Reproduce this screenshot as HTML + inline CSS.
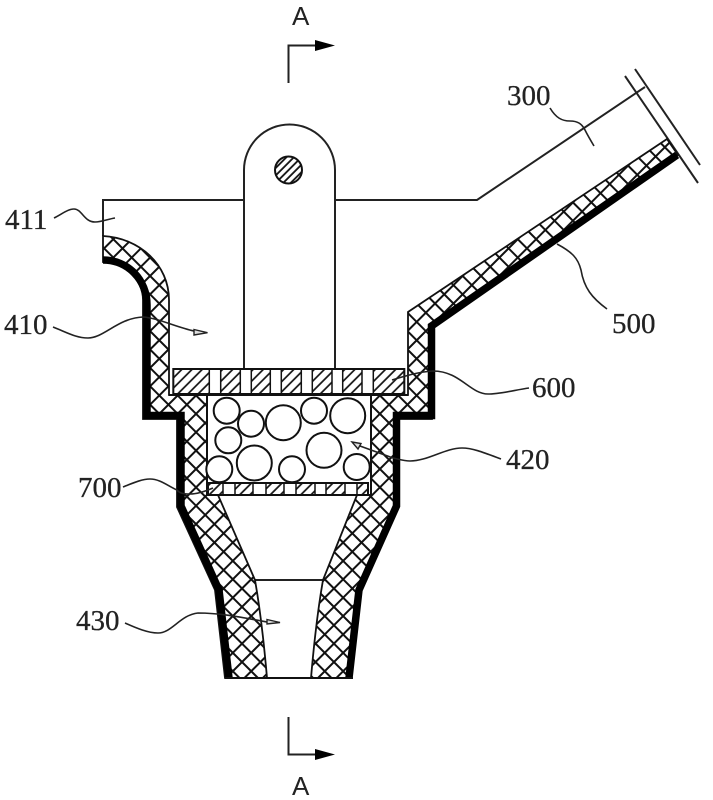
<!DOCTYPE html>
<html>
<head>
<meta charset="utf-8">
<style>
html,body{margin:0;padding:0;background:#fff;width:713px;height:800px;overflow:hidden}
svg{display:block}
text{font-family:"Liberation Serif",serif;font-size:29px;fill:#222;stroke:#222;stroke-width:.3px}
text.a{font-family:"Liberation Sans",sans-serif;font-size:26px;stroke-width:0}
</style>
</head>
<body>
<svg width="713" height="800" viewBox="0 0 713 800" xmlns="http://www.w3.org/2000/svg">
<defs>
<pattern id="x" width="13" height="13" patternUnits="userSpaceOnUse" patternTransform="rotate(45 3 3)">
<path d="M1 0V13M0 1H13" stroke="#111" stroke-width="2" fill="none"/>
</pattern>
<pattern id="h" width="7.200" height="7.200" patternUnits="userSpaceOnUse" patternTransform="rotate(45)">
<path d="M1 0V7.200" stroke="#111" stroke-width="1.700" fill="none"/>
</pattern>
<pattern id="c" width="5.300" height="5.300" patternUnits="userSpaceOnUse" patternTransform="rotate(45)">
<path d="M1 0V5.300" stroke="#111" stroke-width="1.800" fill="none"/>
</pattern>
</defs>

<!-- housing outline -->
<g fill="none" stroke="#222" stroke-width="2">
<path d="M103 236V200H244"/>
<path d="M335 200H477L645 87"/>
<path d="M244 369V170A45.500 45.500 0 0 1 335 170V369"/>
<path d="M625 76L698 183"/>
<path d="M635 69L700 165"/>
<path d="M255 580H323"/>
</g>
<circle cx="288.500" cy="170" r="13.500" fill="url(#c)" stroke="#111" stroke-width="2"/>

<!-- left wall -->
<path d="M103 236C140 238 169 265 169 300V395H207V495H218L255 580Q262 620 267 678H225L215 590L177 507V419H143V300C143 280 125 262 103 262Z" fill="url(#x)" stroke="#111" stroke-width="1.800"/>
<!-- right wall -->
<path d="M311 678Q316 620 323 580L357 495H371V395H408V312L667 139L678 155L432 326V419H396V506L359 590L349 678Z" fill="url(#x)" stroke="#111" stroke-width="1.800"/>

<!-- black outer lining -->
<g fill="none" stroke="#000" stroke-width="7.500" stroke-linejoin="miter">
<path d="M103 260C128 260 147 280 147 305V415.500H181V506L219 590L229 678"/>
<path d="M349 678L359 590L396.500 506V415.500H431.500V326L677 155"/>
</g>
<path d="M225 678H353" stroke="#111" stroke-width="2"/>

<!-- top filter plate -->
<rect x="173.300" y="369" width="231" height="25" fill="#fff" stroke="#111" stroke-width="2"/>
<g fill="url(#h)" stroke="#111" stroke-width="1.500">
<rect x="173.300" y="369" width="36" height="25"/>
<rect x="220.700" y="369" width="19.600" height="25"/>
<rect x="251.300" y="369" width="19" height="25"/>
<rect x="281.300" y="369" width="20" height="25"/>
<rect x="312.300" y="369" width="19.700" height="25"/>
<rect x="342.700" y="369" width="19.300" height="25"/>
<rect x="373.300" y="369" width="31" height="25"/>
</g>
<path d="M169 395H408" stroke="#111" stroke-width="2"/>

<!-- chamber -->
<rect x="207" y="395" width="164" height="100" fill="#fff" stroke="#111" stroke-width="2"/>
<g fill="#fff" stroke="#111" stroke-width="2">
<circle cx="226.700" cy="410.700" r="13"/>
<circle cx="251" cy="423.700" r="13"/>
<circle cx="283.300" cy="422.700" r="17.500"/>
<circle cx="314" cy="410.700" r="13"/>
<circle cx="347.700" cy="415.700" r="17.500"/>
<circle cx="228.300" cy="440.300" r="13"/>
<circle cx="324" cy="450.300" r="17.500"/>
<circle cx="219.300" cy="469.300" r="13"/>
<circle cx="254.300" cy="463" r="17.500"/>
<circle cx="292" cy="469.300" r="13"/>
<circle cx="356.700" cy="467" r="13"/>
</g>

<!-- bottom filter plate -->
<rect x="208" y="483" width="160" height="12" fill="#fff" stroke="#111" stroke-width="2"/>
<g fill="url(#h)" stroke="#111" stroke-width="1.500">
<rect x="208" y="483" width="15" height="12"/>
<rect x="235" y="483" width="18" height="12"/>
<rect x="266" y="483" width="18" height="12"/>
<rect x="296" y="483" width="19" height="12"/>
<rect x="326" y="483" width="19" height="12"/>
<rect x="357" y="483" width="11" height="12"/>
</g>

<!-- leaders -->
<g fill="none" stroke="#222" stroke-width="1.600">
<path d="M550 108C556 118 562 121 570 121C578 121 582 124 585 130C588 136 591 141 594 146"/>
<path d="M557 244C572 252 578 258 581 270C584 288 592 298 607 309"/>
<path d="M54 218C62 214 68 209 74 209C82 209 84 222 95 222C102 222 108 219 115 218"/>
<path d="M53 327C66 332 76 338 88 338C104 338 118 318 143 317C158 318 176 327 194 331"/>
<path d="M529 388C515 390 500 394 488 394C470 394 460 371 433 371C418 372 405 376 392 380"/>
<path d="M501 459C485 453 473 448 462 448C445 448 428 461 410 461C404 461 398 459 393 458L360 446"/>
<path d="M123 487C133 483 142 479 150 479C160 479 168 486 177 490C180 494 186 494 190 494C198 494 206 491 213 488"/>
<path d="M125 623C136 628 148 633 158 633C172 633 180 615 198 613C222 613 245 618 267 622"/>
</g>
<g fill="#ddd" stroke="#222" stroke-width="1.400">
<path d="M194 329.500L207.500 332.700L194 335Z"/>
<path d="M352 442L361 443.500L358 449Z"/>
<path d="M267 619.500L280 622.500L267 624Z"/>
</g>

<!-- section marks -->
<g fill="none" stroke="#222" stroke-width="2">
<path d="M288.500 83V45.500H316"/>
<path d="M288.500 717V754.500H316"/>
</g>
<path d="M315 40L335 45.500L315 51Z" fill="#000"/>
<path d="M315 749L335 754.500L315 760Z" fill="#000"/>

<!-- labels -->
<text x="507" y="105">300</text>
<text x="612" y="333">500</text>
<text x="5" y="229">411</text>
<text x="4" y="334">410</text>
<text x="532" y="397">600</text>
<text x="506" y="469">420</text>
<text x="78" y="497">700</text>
<text x="76" y="630">430</text>
<text class="a" x="292" y="25">A</text>
<text class="a" x="292" y="795">A</text>
</svg>
</body>
</html>
